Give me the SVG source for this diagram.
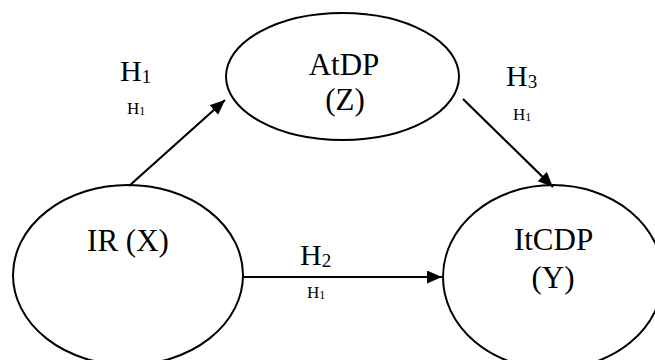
<svg xmlns="http://www.w3.org/2000/svg" width="655" height="360" viewBox="0 0 655 360">
<style>
.node ellipse{fill:#fff;stroke:#000;stroke-width:2}
text{font-family:"Liberation Serif","Times New Roman",serif;fill:#000}
.big{font-size:31px}
.lbl{font-size:30px}
.small{font-size:17px}
.conn line{stroke:#000;stroke-width:2.2}
</style>
<defs>
<marker id="arr" markerUnits="userSpaceOnUse" markerWidth="16" markerHeight="14" refX="15" refY="6.5" orient="auto">
<path d="M0,0 L15,6.5 L0,13 z" fill="#000"/>
</marker>
</defs>
<rect width="655" height="360" fill="#fff"/>
<g id="node-atdp" class="node">
<ellipse cx="342.5" cy="76.5" rx="116.5" ry="63.5"/>
<text class="big" x="344" y="75" text-anchor="middle">AtDP</text>
<text class="big" x="345" y="110" text-anchor="middle">(Z)</text>
</g>
<g id="node-ir" class="node">
<ellipse cx="128" cy="275" rx="115" ry="90"/>
<text class="big" x="128" y="251" text-anchor="middle">IR (X)</text>
</g>
<g id="node-itcdp" class="node">
<ellipse cx="553" cy="277" rx="110" ry="92"/>
<text class="big" x="553.5" y="250" text-anchor="middle">ItCDP</text>
<text class="big" x="553" y="288" text-anchor="middle">(Y)</text>
</g>
<g id="connectors" class="conn">
<line x1="129" y1="186" x2="225" y2="100" marker-end="url(#arr)"/>
<line x1="463" y1="99" x2="553" y2="187" marker-end="url(#arr)"/>
<line x1="243" y1="277" x2="442" y2="277" marker-end="url(#arr)"/>
</g>
<g id="labels">
<text class="lbl" x="120" y="81">H<tspan font-size="19" dy="2">1</tspan></text>
<text class="small" x="127" y="114">H<tspan font-size="12" dy="1">1</tspan></text>
<text class="lbl" x="506" y="86">H<tspan font-size="19" dy="2">3</tspan></text>
<text class="small" x="513" y="120">H<tspan font-size="12" dy="1">1</tspan></text>
<text class="lbl" x="300" y="265">H<tspan font-size="19" dy="2">2</tspan></text>
<text class="small" x="307" y="298">H<tspan font-size="12" dy="1">1</tspan></text>
</g>
</svg>
